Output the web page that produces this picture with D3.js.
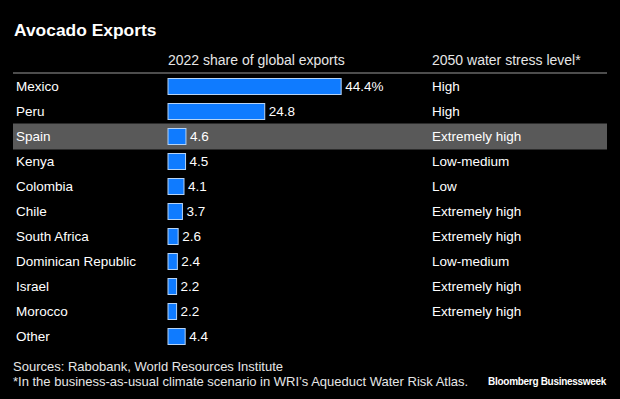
<!DOCTYPE html>
<html lang="en">
<head>
  <meta charset="UTF-8">
  <title>Avocado Exports</title>
  <script src="https://d3js.org/d3.v7.min.js"></script>
  <style>
    body { margin: 0; background: #000; }
    text { font-family: "Liberation Sans", Arial, sans-serif; }
  </style>
</head>
<body>
  <svg id="svg1"></svg>
  <script>
    const countries = ["Mexico", "Peru", "Spain", "Kenya", "Colombia", "Chile", "South Africa",
      "Dominican Republic", "Israel", "Morocco", "Other"];
    const shares = [44.4, 24.8, 4.6, 4.5, 4.1, 3.7, 2.6, 2.4, 2.2, 2.2, 4.4];
    const shareLabels = ["44.4%", "24.8", "4.6", "4.5", "4.1", "3.7", "2.6", "2.4", "2.2", "2.2", "4.4"];
    const stress = ["High", "High", "Extremely high", "Low-medium", "Low", "Extremely high",
      "Extremely high", "Low-medium", "Extremely high", "Extremely high", ""];
    const highlighted = ["Spain"];

    const width = 620, height = 399;
    const left = 13, right = 607;

    const svg = d3.select('#svg1')
      .attr('width', width)
      .attr('height', height);

    svg.append('rect').attr('width', width).attr('height', height).attr('fill', '#000');

    const yScale = d3.scaleBand()
      .domain(countries)
      .range([74, 349]);

    const xScale = d3.scaleLinear()
      .domain([0, 50])
      .range([168, 363]);

    // title + headers
    svg.append('text')
      .attr('x', 14).attr('y', 36)
      .attr('fill', '#fff')
      .attr('font-size', 17.4).attr('font-weight', 'bold')
      .text('Avocado Exports');

    svg.append('text')
      .attr('x', 168).attr('y', 65)
      .attr('fill', '#e6e6e6').attr('font-size', 14)
      .text('2022 share of global exports');

    svg.append('text')
      .attr('x', 432).attr('y', 65)
      .attr('fill', '#e6e6e6').attr('font-size', 14)
      .text('2050 water stress level*');

    svg.append('line')
      .attr('x1', left).attr('x2', right)
      .attr('y1', 73).attr('y2', 73)
      .attr('stroke', '#9a9a9a').attr('stroke-width', 1.2);

    // highlight band
    svg.append('g')
      .selectAll('rect')
      .data(highlighted)
      .enter()
      .append('rect')
      .attr('x', left)
      .attr('y', d => yScale(d) - 0.5)
      .attr('width', right - left)
      .attr('height', yScale.bandwidth() + 1)
      .attr('fill', '#595959');

    const rows = svg.append('g')
      .selectAll('g')
      .data(countries)
      .enter()
      .append('g')
      .attr('transform', d => `translate(0, ${yScale(d) + yScale.bandwidth() / 2})`);

    rows.append('text')
      .attr('x', 16).attr('y', 4.5)
      .attr('fill', '#fff').attr('font-size', 13.5)
      .text(d => d);

    rows.append('rect')
      .attr('x', xScale(0))
      .attr('y', -8)
      .attr('width', (d, i) => xScale(shares[i]) - xScale(0))
      .attr('height', 16)
      .attr('fill', '#0f7bff')
      .attr('stroke', '#b6d3f5')
      .attr('stroke-width', 1);

    rows.append('text')
      .attr('x', (d, i) => xScale(shares[i]) + 4)
      .attr('y', 4.5)
      .attr('fill', '#fff').attr('font-size', 13.5)
      .text((d, i) => shareLabels[i]);

    rows.append('text')
      .attr('x', 432).attr('y', 4.5)
      .attr('fill', '#fff').attr('font-size', 13.5)
      .text((d, i) => stress[i]);

    // footer
    svg.append('text')
      .attr('x', 13).attr('y', 371)
      .attr('fill', '#e6e6e6').attr('font-size', 13)
      .text('Sources: Rabobank, World Resources Institute');

    svg.append('text')
      .attr('x', 13).attr('y', 386)
      .attr('fill', '#e6e6e6').attr('font-size', 13)
      .text('*In the business-as-usual climate scenario in WRI\u2019s Aqueduct Water Risk Atlas.');

    svg.append('text')
      .attr('x', 606).attr('y', 385)
      .attr('text-anchor', 'end')
      .attr('fill', '#fff').attr('font-size', 10).attr('font-weight', 'bold')
      .attr('letter-spacing', -0.3)
      .text('Bloomberg Businessweek');
  </script>
</body>
</html>
